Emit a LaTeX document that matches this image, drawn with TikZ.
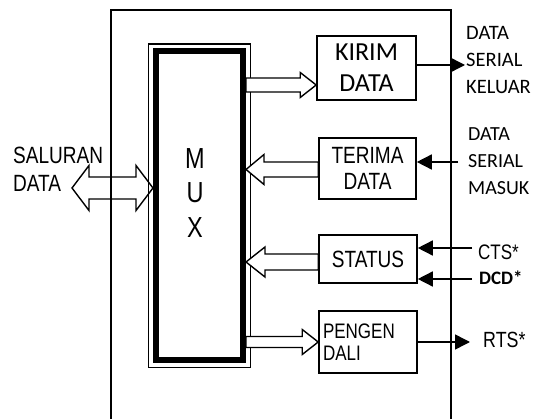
\documentclass[tikz,border=0pt]{standalone}
\usepackage{fontspec}
\setmainfont{Liberation Sans}[FakeStretch=0.81]
\newfontfamily\calfont{Carlito}
\usepackage{tikz}
\usetikzlibrary{arrows.meta, calc}

% hollow bus arrow: start, tip, half shaft, half head, head length
\newcommand\fatarrow[5]{%
  \draw[fat] let \p1=(#1), \p2=(#2), \n2={\x2-sign(\x2-\x1)*#5} in
    (\x1,\y1+#3pt) -- (\n2,\y1+#3pt) -- (\n2,\y1+#4pt) -- (\x2,\y1)
    -- (\n2,\y1-#4pt) -- (\n2,\y1-#3pt) -- (\x1,\y1-#3pt) -- cycle;}
\newcommand\fatboth[5]{%
  \draw[fat, fill=none] let \p1=(#1), \p2=(#2) in
    (\x1,\y1) -- (\x1+#5pt,\y1+#4pt) -- (\x1+#5pt,\y1+#3pt) -- (\x2-#5pt,\y1+#3pt)
    -- (\x2-#5pt,\y1+#4pt) -- (\x2,\y1) -- (\x2-#5pt,\y1-#4pt) -- (\x2-#5pt,\y1-#3pt)
    -- (\x1+#5pt,\y1-#3pt) -- (\x1+#5pt,\y1-#4pt) -- cycle;}

\begin{document}
\begin{tikzpicture}[
  x=1pt, y=-1pt,
  box/.style={draw, line width=1.6pt, inner sep=0pt, minimum width=98pt, align=center,
    font=\fontsize{23.5}{26}\selectfont},
  lbl/.style={inner sep=0pt, align=left},
  fat/.style={draw, fill=white, line width=1.4pt, line join=miter},
  sig/.style={line width=1.5pt, -{Triangle[length=15pt, width=15pt]}}
]
\useasboundingbox (0,0) rectangle (535,419);

\draw[line width=1.5pt] (111,420) |- (451,10) -- (451,420);

% mux
\node[draw, line width=6pt, minimum width=87pt, minimum height=308.5pt] (mux) at (199.5,205.75) {};
\draw[line width=1.2pt] ([shift={(-4.5pt,4.5pt)}]mux.north west) rectangle ([shift={(4.5pt,-4.5pt)}]mux.south east);
\node[inner sep=0pt, align=center, font=\fontsize{29}{34.5}\selectfont] (muxtext) at (195,193) {M\\U\\X};

\node[box, minimum width=99pt, minimum height=64pt, font=\calfont\fontsize{26}{31}\selectfont] (kirim) at (366.5,68) {KIRIM\\DATA};
\node[box, minimum width=97pt, minimum height=61pt] (terima) at (367.5,168.5) {TERIMA\\DATA};
\node[box, minimum height=48pt] (status) at (368,259) {STATUS};
\node[box, minimum height=62pt, inner xsep=4pt, text width=90pt, align=left,
  font=\fontsize{21}{22}\selectfont] (pengen) at (368,342) {PENGEN\\DALI};

% bus arrows
\coordinate (kirimin) at ([yshift=-17pt]kirim.west);
\coordinate (terimaout) at ([yshift=-1pt]terima.west);
\coordinate (statusout) at ([yshift=-3pt]status.west);
\coordinate (busend) at (72,188);
\fatarrow{mux.east |- kirimin}{kirimin}{7}{12.5}{16}
\fatarrow{terimaout}{mux.east |- terimaout}{7.5}{15}{18}
\fatarrow{statusout}{mux.east |- statusout}{8}{15}{19}
\fatarrow{mux.east |- pengen.west}{pengen.west}{5.5}{12.5}{16}
\fatboth{busend}{mux.west |- busend}{11}{22.5}{17}

% serial lines
\coordinate (serout) at (465,65);
\coordinate (serin) at (458,162);
\coordinate (cts) at (472,248);
\coordinate (dcd) at (472,279);
\coordinate (rts) at (470,342);
\draw[sig] (kirim.east |- serout) -- (serout);
\draw[sig] (serin) -- (terima.east |- serin);
\draw[sig] (cts) -- (status.east |- cts);
\draw[sig] (dcd) -- (status.east |- dcd);
\draw[sig] (pengen.east) -- (rts);

\node[lbl, anchor=north west, font=\fontsize{23.5}{28}\selectfont] (saluran) at (13,147) {SALURAN\\DATA};
\node[lbl, anchor=north west, font=\calfont\fontsize{20.5}{27}\selectfont] (keluar) at (466,26) {DATA\\SERIAL\\KELUAR};
\node[lbl, anchor=north west, font=\calfont\fontsize{20}{27}\selectfont] (masuk) at (468,127) {DATA\\SERIAL\\MASUK};
\node[lbl, anchor=base west, font=\fontsize{21}{22}\selectfont] (ctslabel) at (478,260) {CTS*};
\node[lbl, anchor=base west, font=\calfont\bfseries\fontsize{19}{20}\selectfont] (dcdlabel) at (479,285) {DCD*};
\node[lbl, anchor=base west, font=\fontsize{22}{23}\selectfont] (rtslabel) at (483,348) {RTS*};
\end{tikzpicture}
\end{document}
